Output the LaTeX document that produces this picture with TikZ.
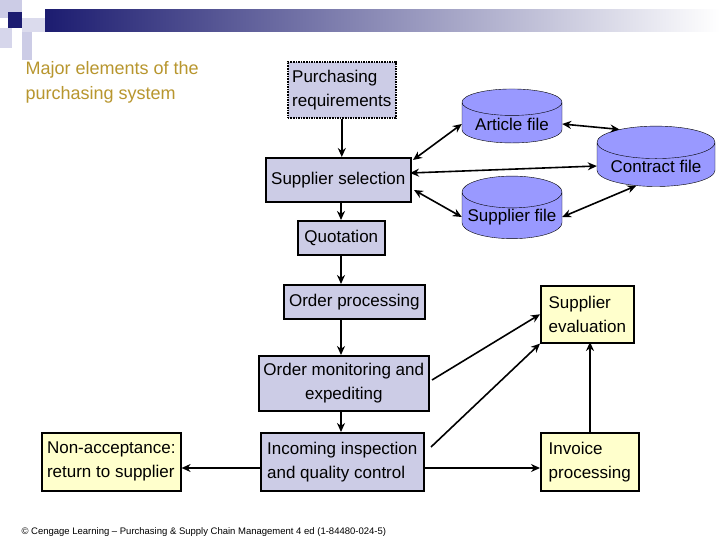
\documentclass[tikz,border=0pt]{standalone}
\usepackage{fontspec}
\setmainfont{Liberation Sans}
\usetikzlibrary{shapes.geometric,arrows.meta}
\definecolor{boxblue}{HTML}{CCCCE6}
\definecolor{boxyel}{HTML}{FFFFCC}
\definecolor{cylblue}{HTML}{9999FF}
\definecolor{gold}{HTML}{B8962E}
\definecolor{navy}{HTML}{1C1C70}
\tikzset{
  bb/.style={draw, line width=1.6pt, fill=boxblue, inner sep=2pt, font=\fontsize{17}{24}\selectfont, align=left, anchor=north west},
  yb/.style={bb, fill=boxyel},
  cyl/.style={cylinder, shape border rotate=90, aspect=0.35, draw, fill=cylblue, minimum width=100pt, minimum height=54pt, inner sep=1pt, font=\fontsize{17}{20}\selectfont},
  ar/.style={-{Stealth[length=9pt,width=8pt]}, line width=1.6pt},
  dar/.style={{Stealth[length=9pt,width=8pt]}-{Stealth[length=9pt,width=8pt]}, line width=1.6pt}
}
\begin{document}
\begin{tikzpicture}[x=1pt,y=-1pt]
\useasboundingbox (0,0) rectangle (720,540);
\fill[white] (0,0) rectangle (720,540);
% header decoration
\shade[left color=navy, right color=white] (45,10) rectangle (720,32);
\fill[boxblue] (0,0) rectangle (22,18);
\fill[navy] (8,12) rectangle (22,28);
\fill[boxblue!70] (22,18) rectangle (45,32);
\fill[boxblue!80] (0,28) rectangle (12,48);
\fill[boxblue] (22,32) rectangle (32,60);
\node[anchor=north west, text=gold, align=left, font=\fontsize{18}{25}\selectfont] (title) at (22,58) {Major elements of the\\purchasing system};
% boxes
\node[bb, draw=black, densely dotted, minimum width=108pt, minimum height=56pt] (pr) at (287,61) {Purchasing\\requirements};
\node[bb, minimum width=145pt, minimum height=44pt, align=center] (ss) at (265,157) {Supplier selection};
\node[bb, minimum width=87pt, minimum height=34pt] (qu) at (297,220) {Quotation};
\node[bb, minimum width=141pt, minimum height=34pt] (op) at (283,284) {Order processing};
\node[bb, minimum width=170pt, minimum height=55pt, align=center] (om) at (258,355) {Order monitoring and\\expediting};
\node[bb, minimum width=163pt, minimum height=58pt] (ii) at (260,432) {Incoming inspection\\and quality control};
\node[yb, minimum width=139pt, minimum height=58pt] (na) at (41,432) {Non-acceptance:\\return to supplier};
\node[yb, minimum width=93pt, minimum height=57pt] (se) at (540,285) {Supplier\\evaluation};
\node[yb, minimum width=98pt, minimum height=58pt] (ip) at (540,432) {Invoice\\processing};
% cylinders
\node[cyl] (af) at (512,124) {\raisebox{-6pt}{Article file}};
\node[cyl, minimum width=118pt] (cf) at (656,166) {\raisebox{-6pt}{Contract file}};
\node[cyl] (sf) at (512,217) {\raisebox{-6pt}{Supplier file}};
% connectors
\draw[ar] (pr.south) -- (ss.north -| pr.south);
\coordinate (ssx) at (341,201);
\draw[ar] (ssx) -- (341,220);
\draw[ar] (341,254) -- (341,284);
\draw[ar] (341,318) -- (341,355);
\draw[ar] (341,410) -- (341,432);
\draw[dar] (413,160) -- (af.west);
\draw[dar] (af.east) -- (cf.north west);
\draw[dar] (410,173) -- (cf.west);
\draw[dar] (414,190) -- (sf.west);
\draw[dar] (sf.east) -- (cf.south west);
\draw[ar] (432,380) -- (se.west);
\draw[ar] (431,447) -- (se.south west);
\draw[ar] (ip.north -| 590,0) -- (590,342);
\draw[ar] (ii.east |- 0,468) -- (ip.west |- 0,468);
\draw[ar] (ii.west |- 0,468) -- (na.east |- 0,468);
\node[anchor=west, font=\fontsize{9.5}{11}\selectfont] (foot) at (18,532) {© Cengage Learning – Purchasing \& Supply Chain Management 4 ed (1-84480-024-5)};
\end{tikzpicture}
\end{document}
